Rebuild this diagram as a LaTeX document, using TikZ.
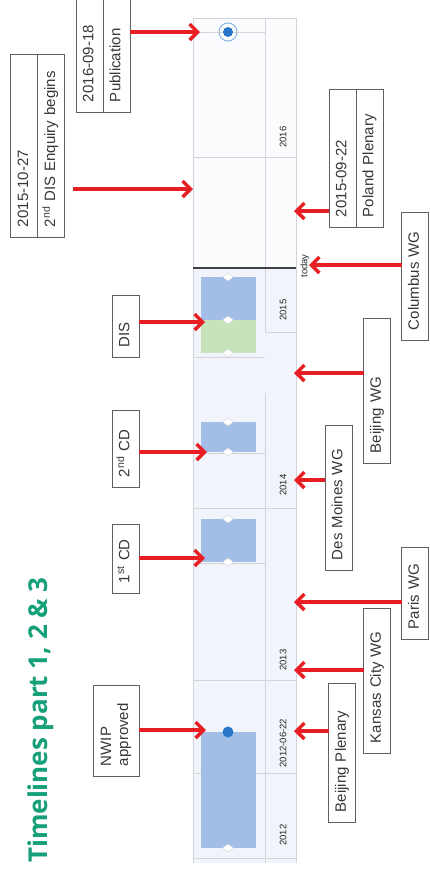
\documentclass[tikz,border=0pt]{standalone}
\usepackage{fontspec}
\setmainfont{Liberation Sans}
\newfontfamily\titlefont{Open Sans}
\usepackage{tikz}
\usetikzlibrary{arrows.meta,shapes.geometric}

\definecolor{arrowred}{RGB}{232,30,37}
\definecolor{boxgray}{RGB}{95,95,95}
\definecolor{textgray}{RGB}{55,55,55}
\definecolor{titlegreen}{RGB}{22,160,122}
\definecolor{barblue}{RGB}{163,190,230}
\definecolor{bargreen}{RGB}{198,227,187}
\definecolor{lanebg}{RGB}{241,244,250}
\definecolor{lanetop}{RGB}{251,252,254}
\definecolor{gridgray}{RGB}{210,212,217}
\definecolor{dotblue}{RGB}{40,118,200}

\begin{document}
\begin{tikzpicture}[x=1pt,y=-1pt,
  box/.style={draw=boxgray,line width=0.8pt,outer sep=0pt,rotate=90,anchor=west,font=\fontsize{15}{17}\selectfont,text=textgray,text height=11pt,text depth=3.5pt,inner xsep=10pt,inner ysep=6.25pt,align=left},
  twoline/.style={box,text height=,text depth=,inner ysep=0pt,minimum height=46pt},
  yr/.style={rotate=90,font=\fontsize{9.5}{11}\selectfont,text=black!85,inner sep=0pt},
  grid/.style={draw=gridgray,line width=0.7pt},
  diam/.style={diamond,fill=white,draw=gridgray,line width=0.4pt,minimum width=11pt,minimum height=8pt,inner sep=0pt},
  dot/.style={circle,fill=dotblue,minimum size=11pt,inner sep=0pt},
  arr/.style={-{Straight Barb[length=8pt,width=16pt]},line width=3.5pt,arrowred},
  heading/.style={rotate=90,font=\titlefont\bfseries\fontsize{26}{30}\selectfont,text=titlegreen}
]
\useasboundingbox (0,0) rectangle (429,879);

% Chart lanes
\fill[lanetop] (193,18) rectangle (296,268);
\fill[lanebg] (193,268) rectangle (296,863);
\draw[grid] (193,18) -- (296,18);
\draw[grid] (193,18) -- (193,863);
\draw[grid] (296,18) -- (296,863);
\draw[grid] (265,18) -- (265,332);
\draw[grid] (265,393) -- (265,863);
\draw[grid] (193,32) -- (265,32);
\draw[grid] (193,157) -- (296,157);
\draw[grid] (265,332) -- (296,332);
\draw[grid] (193,357) -- (265,357);
\draw[grid] (193,453) -- (265,453);
\draw[grid] (193,508) -- (296,508);
\draw[grid] (193,563) -- (265,563);
\draw[grid] (193,680) -- (296,680);
\draw[grid] (193,773) -- (296,773);
\draw[grid] (193,858) -- (296,858);

% Bars
\fill[barblue] (201,277) rectangle (256,320);
\fill[bargreen] (201,320) rectangle (256,353);
\fill[barblue] (201,422) rectangle (256,452);
\fill[barblue] (201,519) rectangle (256,562);
\fill[barblue] (201,732) rectangle (256,848);
\foreach \y in {277,320,353,422,452,519,562,848}
  \node[diam] (dia-\y) at (228,\y) {};

% today
\draw[black!75,line width=1.2pt] (193,268) -- (296,268);

% Milestones
\node[circle,draw=dotblue!55,line width=1pt,minimum size=18pt,inner sep=0pt] (pubring) at (228,32) {};
\node[dot,minimum size=10pt] (pubdot) at (228,32) {};
\node[dot] (nwipdot) at (228,732) {};

% Year labels
\node[yr] (y2016) at (283,137) {2016};
\node[yr] (today) at (305,266) {today};
\node[yr] (y2015) at (283,310) {2015};
\node[yr] (y2014) at (283,485) {2014};
\node[yr] (y2013) at (283,660) {2013};
\node[yr] (ynwip) at (283,743) {2012-06-22};
\node[yr] (y2012) at (283,835) {2012};

% Title
\node[heading] (ttl) at (41,720) {Timelines part 1, 2 \& 3};

% Left callouts
\node[box,text width=105pt] (pub-d) at (89.5,112) {2016-09-18};
\node[box,anchor=north,text width=105pt] (pub-t) at (pub-d.south) {Publication};
\node[box,text width=163pt] (enq-d) at (24.25,237) {2015-10-27};
\node[box,anchor=north,text width=163pt] (enq-t) at (enq-d.south) {2\textsuperscript{nd} DIS Enquiry begins};
\node[box,text width=42pt] (dis) at (125.5,357) {DIS};
\node[box,text width=57pt] (cd2) at (125.5,487) {2\textsuperscript{nd} CD};
\node[box,text width=49pt] (cd1) at (125.5,593) {1\textsuperscript{st} CD};
\node[twoline,text width=71pt] (nwip) at (116,776) {NWIP\\approved};

% Right callouts
\node[box,text width=118pt] (pol-d) at (342.5,227) {2015-09-22};
\node[box,anchor=north,text width=118pt] (pol-t) at (pol-d.south) {Poland Plenary};
\node[box,text width=108pt] (col) at (415,340) {Columbus WG};
\node[box,text width=125pt] (bwg) at (377,463) {Beijing WG};
\node[box,text width=125pt] (dm) at (338.5,570) {Des Moines WG};
\node[box,text width=72pt] (par) at (415,639) {Paris WG};
\node[box,text width=125pt] (kc) at (377,753) {Kansas City WG};
\node[box,text width=119pt] (bp) at (342,822) {Beijing Plenary};

% Targets
\coordinate (t-pub) at (200,32);
\coordinate (t-enq) at (193,189);
\coordinate (t-dis) at (205,322);
\coordinate (t-cd2) at (207,452);
\coordinate (t-cd1) at (205,558);
\coordinate (t-nwip) at (206,730);
\coordinate (t-pol) at (294,211);
\coordinate (t-col) at (309,265);
\coordinate (t-bwg) at (294,373);
\coordinate (t-dm) at (294,480);
\coordinate (t-par) at (294,602);
\coordinate (t-kc) at (294,670);
\coordinate (t-bp) at (294,731);

% Arrows
\draw[arr] (pub-t.south |- t-pub) -- (t-pub);
\draw[arr,shorten <=8pt] (enq-t.south |- t-enq) -- (t-enq);
\draw[arr] (dis.south |- t-dis) -- (t-dis);
\draw[arr] (cd2.south |- t-cd2) -- (t-cd2);
\draw[arr] (cd1.south |- t-cd1) -- (t-cd1);
\draw[arr] (nwip.south |- t-nwip) -- (t-nwip);

\draw[arr] (pol-d.north |- t-pol) -- (t-pol);
\draw[arr] (col.north |- t-col) -- (t-col);
\draw[arr] (bwg.north |- t-bwg) -- (t-bwg);
\draw[arr] (dm.north |- t-dm) -- (t-dm);
\draw[arr] (par.north |- t-par) -- (t-par);
\draw[arr] (kc.north |- t-kc) -- (t-kc);
\draw[arr] (bp.north |- t-bp) -- (t-bp);

\end{tikzpicture}
\end{document}
